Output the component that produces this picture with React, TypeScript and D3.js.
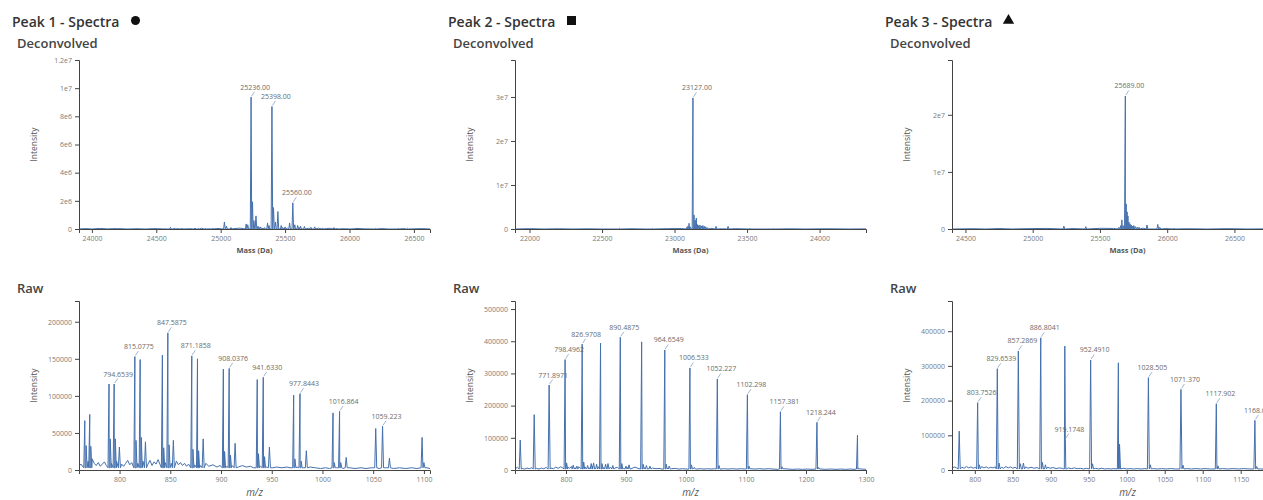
import { useEffect, useRef } from "react";
import * as d3 from "d3";

type Peak = [number, number];
type Labelled = [number, number, string];

// ---------- Peak 1 ----------
const p1Title = "Peak 1 - Spectra";
const p1MassDomain: [number, number] = [23900, 26625];
const p1MassTicks = [24000, 24500, 25000, 25500, 26000, 26500];
const p1DeconvMax = 1.2e7;
const p1DeconvTicks = [0, 2e6, 4e6, 6e6, 8e6, 1e7, 1.2e7];
const p1DeconvLabelled: Labelled[] = [
  [25236, 9.36e6, "25236.00"],
  [25398, 8.7e6, "25398.00"],
  [25560, 1.86e6, "25560.00"],
];
const p1DeconvPeaks: Peak[] = [
  [24610, 1.2e5], [24640, 0.8e5], [24700, 0.6e5], [24800, 0.7e5], [24830, 0.5e5], [24880, 0.4e5],
  [24940, 0.6e5], [25029, 5.0e5], [25045, 2.0e5], [25080, 1.0e5], [25198, 3.6e5], [25210, 3.0e5],
  [25247, 1.93e6], [25258, 6.0e5], [25274, 9.3e5], [25290, 2.0e5], [25310, 1.5e5], [25340, 1.0e5],
  [25364, 4.3e5], [25375, 2.5e5], [25410, 1.52e6], [25425, 5.0e5], [25444, 1.24e6], [25470, 2.5e5],
  [25500, 1.5e5], [25535, 4.3e5], [25575, 3.0e5], [25598, 2.5e5], [25620, 2.0e5], [25650, 1.8e5],
  [25700, 1.2e5], [25730, 1.5e5], [25790, 0.8e5], [25880, 1.0e5], [25900, 0.7e5], [26020, 0.5e5],
  [26200, 0.4e5], [26380, 0.6e5], [26450, 0.5e5],
];
const p1DeconvNoise: Peak[] = [
  [23900, 0], [23950, 3e4], [24000, 0], [24060, 4e4], [24120, 1e4], [24200, 3e4], [24280, 0], [24350, 2e4],
  [24420, 0], [24480, 3e4], [24550, 1e4], [24660, 2e4], [24760, 2e4], [24850, 5e4], [24900, 1e4],
  [24970, 4e4], [25100, 3e4], [25150, 6e4], [25180, 2e4], [25300, 1e5], [25330, 5e4], [25480, 1e5],
  [25520, 6e4], [25610, 1e5], [25680, 5e4], [25760, 6e4], [25820, 3e4], [25850, 5e4], [25950, 2e4],
  [26050, 4e4], [26120, 1e4], [26250, 3e4], [26300, 0], [26420, 3e4], [26500, 1e4], [26560, 3e4], [26625, 0],
];
const p1MzDomain: [number, number] = [760, 1106];
const p1MzTicks = [800, 850, 900, 950, 1000, 1050, 1100];
const p1RawMax = 228000;
const p1RawTicks = [0, 50000, 100000, 150000, 200000];
const p1RawLabelled: Labelled[] = [
  [794.6539, 116000, "794.6539"],
  [815.0775, 153000, "815.0775"],
  [847.5875, 185000, "847.5875"],
  [871.1858, 154000, "871.1858"],
  [908.0376, 137000, "908.0376"],
  [941.633, 125000, "941.6330"],
  [977.8443, 103000, "977.8443"],
  [1016.864, 79000, "1016.864"],
  [1059.223, 59000, "1059.223"],
];
const p1RawPeaks: Peak[] = [
  [765.7, 66600], [767.0, 33000], [770.6, 75000], [771.6, 32000], [789.6, 116000], [790.8, 42000],
  [795.8, 42000], [799.8, 31000], [816.2, 40000], [820.3, 149000], [821.4, 44000], [825.5, 38000],
  [842.2, 155000], [843.5, 30000], [848.8, 34000], [853.0, 40000], [872.3, 28000], [876.8, 150000],
  [877.9, 26000], [882.4, 42000], [902.3, 136000], [903.5, 25000], [909.3, 20000], [913.9, 36000],
  [935.7, 122000], [936.9, 22000], [942.9, 18000], [947.7, 31000], [971.6, 101000], [972.8, 15000],
  [979.0, 12000], [984.1, 26000], [1010.4, 77000], [1011.6, 10000], [1018.0, 10000], [1023.4, 17000],
  [1052.5, 56000], [1066.0, 16000], [1098.2, 44000], [1100.0, 10000],
];
const p1RawNoise: Peak[] = [
  [760, 5e3], [762, 8e3], [764, 4e3], [769, 12e3], [773, 15e3], [775, 9e3], [777, 6e3], [779, 10e3],
  [781, 5e3], [783, 8e3], [785, 11e3], [787, 6e3], [792, 9e3], [797, 12e3], [802, 8e3], [804, 5e3],
  [806, 9e3], [808, 13e3], [810, 7e3], [812, 10e3], [818, 9e3], [823, 12e3], [828, 8e3], [830, 13e3],
  [832, 6e3], [834, 11e3], [836, 8e3], [838, 14e3], [840, 7e3], [845, 10e3], [851, 9e3], [856, 12e3],
  [858, 7e3], [860, 10e3], [862, 6e3], [864, 9e3], [866, 5e3], [868, 8e3], [874, 7e3], [880, 6e3],
  [885, 9e3], [888, 5e3], [892, 7e3], [896, 4e3], [899, 6e3], [906, 5e3], [911, 6e3], [917, 4e3],
  [921, 6e3], [925, 4e3], [929, 5e3], [932, 3e3], [939, 5e3], [945, 4e3], [951, 3e3], [955, 4e3],
  [960, 3e3], [965, 4e3], [968, 3e3], [975, 4e3], [981, 3e3], [988, 4e3], [993, 3e3], [998, 2e3],
  [1003, 3e3], [1007, 2e3], [1014, 3e3], [1020, 2e3], [1027, 3e3], [1032, 2e3], [1038, 3e3], [1043, 2e3],
  [1048, 3e3], [1056, 2e3], [1062, 3e3], [1070, 2e3], [1076, 3e3], [1082, 2e3], [1088, 3e3], [1093, 2e3],
  [1103, 3e3], [1106, 2e3],
];

// ---------- Peak 2 ----------
const p2Title = "Peak 2 - Spectra";
const p2MassDomain: [number, number] = [21900, 24320];
const p2MassTicks = [22000, 22500, 23000, 23500, 24000];
const p2DeconvMax = 3.84e7;
const p2DeconvTicks = [0, 1e7, 2e7, 3e7];
const p2DeconvLabelled: Labelled[] = [[23127, 2.98e7, "23127.00"]];
const p2DeconvPeaks: Peak[] = [
  [22620, 1.5e5], [22850, 1.2e5], [23085, 4e5], [23093, 7e5], [23100, 1.3e6], [23108, 5e5],
  [23134, 3.2e6], [23142, 2.0e6], [23150, 2.5e6], [23158, 1.0e6], [23166, 8e5], [23175, 9e5],
  [23185, 7e5], [23195, 8e5], [23205, 6e5], [23215, 5e5], [23228, 3e5], [23286, 6e5], [23369, 6e5],
  [23520, 1.5e5], [23680, 1e5],
];
const p2DeconvNoise: Peak[] = [
  [21900, 0], [22000, 8e4], [22100, 0], [22200, 6e4], [22300, 0], [22400, 5e4], [22500, 0],
  [22700, 6e4], [22800, 0], [22950, 8e4], [23050, 1e5], [23250, 1.5e5], [23330, 5e4], [23420, 8e4],
  [23600, 0], [23800, 5e4], [23900, 0], [24050, 6e4], [24200, 0], [24320, 3e4],
];
const p2MzDomain: [number, number] = [715, 1300];
const p2MzTicks = [800, 900, 1000, 1100, 1200, 1300];
const p2RawMax = 525000;
const p2RawTicks = [0, 100000, 200000, 300000, 400000, 500000];
const p2RawLabelled: Labelled[] = [
  [771.8971, 264000, "771.8971"],
  [798.4962, 343000, "798.4962"],
  [826.9708, 391000, "826.9708"],
  [890.4875, 412000, "890.4875"],
  [964.6549, 373000, "964.6549"],
  [1006.533, 317000, "1006.533"],
  [1052.227, 283000, "1052.227"],
  [1102.298, 234000, "1102.298"],
  [1157.381, 181000, "1157.381"],
  [1218.244, 148000, "1218.244"],
];
const p2RawPeaks: Peak[] = [
  [723.7, 93000], [747.0, 172000], [857.56, 394000], [926.09, 398000], [1285.8, 108000],
  [801, 22000], [812, 15000], [818, 12000], [829.5, 25000], [836, 14000], [842, 20000], [846, 22000],
  [851, 18000], [860, 20000], [866, 18000], [870, 20000], [878, 14000], [893, 20000], [900, 12000],
  [905, 16000], [928.5, 18000], [934, 14000], [940, 12000], [967, 18000], [972, 12000], [1009, 16000],
  [1014, 8000], [1055, 14000], [1105, 12000], [1160, 10000], [1221, 8000], [1288, 6000],
];
const p2RawNoise: Peak[] = [
  [715, 4e3], [719, 8e3], [727, 5e3], [731, 3e3], [735, 6e3], [739, 4e3], [743, 7e3], [751, 5e3],
  [755, 3e3], [759, 6e3], [763, 4e3], [767, 8e3], [775, 6e3], [779, 4e3], [783, 9e3], [787, 5e3],
  [791, 10e3], [795, 6e3], [803, 9e3], [806, 5e3], [809, 11e3], [815, 7e3], [821, 10e3], [824, 6e3],
  [832, 9e3], [839, 7e3], [844, 12e3], [848, 6e3], [854, 10e3], [863, 8e3], [868, 6e3], [874, 9e3],
  [881, 6e3], [886, 8e3], [896, 5e3], [903, 8e3], [910, 5e3], [915, 9e3], [920, 5e3], [931, 7e3],
  [937, 4e3], [944, 6e3], [950, 4e3], [955, 5e3], [960, 3e3], [970, 6e3], [976, 4e3], [982, 5e3],
  [988, 3e3], [994, 4e3], [1000, 3e3], [1012, 5e3], [1018, 3e3], [1024, 4e3], [1030, 3e3], [1036, 4e3],
  [1042, 3e3], [1048, 4e3], [1058, 3e3], [1064, 4e3], [1070, 3e3], [1078, 4e3], [1085, 3e3], [1092, 4e3],
  [1098, 3e3], [1108, 4e3], [1115, 3e3], [1122, 4e3], [1130, 3e3], [1137, 4e3], [1145, 3e3], [1152, 2e3],
  [1163, 4e3], [1170, 3e3], [1178, 2e3], [1186, 3e3], [1194, 2e3], [1202, 3e3], [1210, 2e3], [1225, 3e3],
  [1233, 2e3], [1241, 3e3], [1250, 2e3], [1258, 3e3], [1266, 2e3], [1274, 3e3], [1280, 2e3], [1292, 3e3],
  [1300, 2e3],
];

// ---------- Peak 3 ----------
const p3Title = "Peak 3 - Spectra";
const p3MassDomain: [number, number] = [24400, 27010];
const p3MassTicks = [24500, 25000, 25500, 26000, 26500, 27000];
const p3DeconvMax = 2.96e7;
const p3DeconvTicks = [0, 1e7, 2e7];
const p3DeconvLabelled: Labelled[] = [[25689, 2.33e7, "25689.00"]];
const p3DeconvPeaks: Peak[] = [
  [25232, 5e5], [25395, 4e5], [25640, 3e5], [25655, 6e5], [25663, 1.6e6], [25672, 6e5],
  [25695, 4.4e6], [25702, 3.0e6], [25708, 2.3e6], [25716, 1.2e6], [25724, 9e5], [25733, 7e5],
  [25742, 5e5], [25752, 6e5], [25765, 4e5], [25778, 3e5], [25790, 3e5], [25850, 7e5], [25930, 8e5],
  [25945, 3e5], [26050, 1.5e5],
];
const p3DeconvNoise: Peak[] = [
  [24400, 0], [24550, 5e4], [24650, 0], [24750, 8e4], [24850, 0], [24950, 6e4], [25100, 1e5],
  [25300, 8e4], [25500, 1.2e5], [25600, 1e5], [25820, 1.5e5], [25990, 8e4], [26150, 5e4], [26300, 0],
  [26450, 6e4], [26600, 0], [26800, 4e4], [27010, 0],
];
const p3MzDomain: [number, number] = [770, 1232];
const p3MzTicks = [800, 850, 900, 950, 1000, 1050, 1100, 1150, 1200];
const p3RawMax = 487000;
const p3RawTicks = [0, 100000, 200000, 300000, 400000];
const p3RawLabelled: Labelled[] = [
  [803.7526, 194000, "803.7526"],
  [829.6539, 292000, "829.6539"],
  [857.2869, 343000, "857.2869"],
  [886.8041, 381000, "886.8041"],
  [919.1748, 89000, "919.1748"],
  [952.491, 317000, "952.4910"],
  [1028.505, 266000, "1028.505"],
  [1071.37, 232000, "1071.370"],
  [1117.902, 191000, "1117.902"],
  [1168.686, 143000, "1168.686"],
];
const p3RawPeaks: Peak[] = [
  [779.5, 112000], [918.5, 357000], [989.0, 309000], [990.5, 75000], [1224.3, 110000],
  [806, 15000], [832, 20000], [860, 18000], [864, 20000], [889, 22000], [893, 15000], [955, 18000],
  [1031, 15000], [1074, 14000], [1120, 12000], [1171, 10000],
];
const p3RawNoise: Peak[] = [
  [770, 5e3], [773, 9e3], [776, 6e3], [783, 8e3], [786, 5e3], [789, 10e3], [792, 6e3], [795, 9e3],
  [798, 5e3], [801, 8e3], [809, 10e3], [812, 6e3], [815, 9e3], [818, 5e3], [821, 8e3], [824, 6e3],
  [827, 9e3], [835, 8e3], [838, 5e3], [841, 10e3], [844, 6e3], [847, 9e3], [850, 5e3], [853, 8e3],
  [867, 9e3], [870, 5e3], [874, 8e3], [878, 5e3], [882, 7e3], [896, 8e3], [899, 5e3], [903, 7e3],
  [907, 4e3], [911, 6e3], [915, 5e3], [923, 6e3], [927, 4e3], [931, 6e3], [935, 4e3], [939, 5e3],
  [943, 3e3], [947, 5e3], [959, 5e3], [963, 3e3], [967, 5e3], [971, 3e3], [975, 4e3], [979, 3e3],
  [983, 4e3], [996, 5e3], [1000, 3e3], [1004, 4e3], [1009, 3e3], [1014, 4e3], [1019, 3e3], [1024, 4e3],
  [1035, 4e3], [1040, 3e3], [1046, 4e3], [1052, 3e3], [1058, 4e3], [1064, 3e3], [1079, 4e3], [1085, 3e3],
  [1091, 4e3], [1097, 3e3], [1103, 4e3], [1110, 3e3], [1126, 4e3], [1133, 3e3], [1140, 4e3], [1147, 3e3],
  [1154, 4e3], [1161, 3e3], [1176, 3e3], [1185, 2e3], [1194, 3e3], [1203, 2e3], [1212, 3e3], [1220, 2e3],
  [1232, 3e3],
];

// layout
const PLOT_LEFT = [79, 515, 952];
const PLOT_W = 351;
const DECONV_TOP = 60;
const DECONV_BOTTOM = 229;
const RAW_TOP = 301;
const RAW_BOTTOM = 470;
const LINE = "#4470ad";
const FONT = "'Open Sans', 'Noto Sans', sans-serif";

interface Spectrum {
  peaks: Peak[];
  labelled: Labelled[];
  noise: Peak[];
  xDomain: [number, number];
  xTicks: number[];
  yMax: number;
  yTicks: number[];
  raw: boolean;
}

const expFormat = (v: number) => (v === 0 ? "0" : v.toExponential().replace("+", ""));

const panels = [
  {
    title: p1Title, symbol: d3.symbolCircle, symSize: 64,
    deconv: { peaks: p1DeconvPeaks, labelled: p1DeconvLabelled, noise: p1DeconvNoise, xDomain: p1MassDomain, xTicks: p1MassTicks, yMax: p1DeconvMax, yTicks: p1DeconvTicks, raw: false },
    raw: { peaks: p1RawPeaks, labelled: p1RawLabelled, noise: p1RawNoise, xDomain: p1MzDomain, xTicks: p1MzTicks, yMax: p1RawMax, yTicks: p1RawTicks, raw: true },
  },
  {
    title: p2Title, symbol: d3.symbolSquare, symSize: 81,
    deconv: { peaks: p2DeconvPeaks, labelled: p2DeconvLabelled, noise: p2DeconvNoise, xDomain: p2MassDomain, xTicks: p2MassTicks, yMax: p2DeconvMax, yTicks: p2DeconvTicks, raw: false },
    raw: { peaks: p2RawPeaks, labelled: p2RawLabelled, noise: p2RawNoise, xDomain: p2MzDomain, xTicks: p2MzTicks, yMax: p2RawMax, yTicks: p2RawTicks, raw: true },
  },
  {
    title: p3Title, symbol: d3.symbolTriangle, symSize: 56,
    deconv: { peaks: p3DeconvPeaks, labelled: p3DeconvLabelled, noise: p3DeconvNoise, xDomain: p3MassDomain, xTicks: p3MassTicks, yMax: p3DeconvMax, yTicks: p3DeconvTicks, raw: false },
    raw: { peaks: p3RawPeaks, labelled: p3RawLabelled, noise: p3RawNoise, xDomain: p3MzDomain, xTicks: p3MzTicks, yMax: p3RawMax, yTicks: p3RawTicks, raw: true },
  },
];

function drawSpectrum(
  svg: d3.Selection<SVGSVGElement, unknown, null, undefined>,
  s: Spectrum,
  left: number,
  top: number,
  bottom: number,
  id: string
) {
  const x = d3.scaleLinear().domain(s.xDomain).range([left, left + PLOT_W]);
  const y = d3.scaleLinear().domain([0, s.yMax]).range([bottom, top]);
  const g = svg.append("g");

  svg.append("defs").append("clipPath").attr("id", id)
    .append("rect").attr("x", left).attr("y", top - 4).attr("width", PLOT_W).attr("height", bottom - top + 4);

  // profile: each peak is a narrow spike, noise points are joined directly
  const base = s.raw ? 3000 : 0;
  const hw = s.raw ? 1.0 : 0.8;
  const pts: [number, number][] = [];
  const allPeaks: Peak[] = [...s.peaks, ...s.labelled.map((d) => [d[0], d[1]] as Peak)];
  allPeaks.forEach(([m, v]) => {
    const px = x(m);
    pts.push([px - hw, y(base)], [px, y(v)], [px + hw, y(base)]);
  });
  s.noise.forEach(([m, v]) => pts.push([x(m), y(v)]));
  pts.sort((a, b) => a[0] - b[0]);

  g.append("path")
    .attr("d", d3.line()(pts))
    .attr("fill", "none")
    .attr("stroke", LINE)
    .attr("stroke-width", 1)
    .attr("stroke-linejoin", "bevel")
    .attr("clip-path", `url(#${id})`);

  // peak labels with leader lines
  s.labelled.forEach(([m, v, txt]) => {
    const px = x(m);
    const py = y(v);
    g.append("line")
      .attr("x1", px + 0.5).attr("y1", py - 1)
      .attr("x2", px + 3.5).attr("y2", py - 5.5)
      .attr("stroke", "#8aa3c4").attr("stroke-width", 0.8);
    g.append("text")
      .attr("x", px + 4).attr("y", py - 7.5)
      .attr("text-anchor", "middle")
      .attr("font-family", FONT).attr("font-size", 7)
      .attr("fill", "#6b6b6b")
      .text(txt);
  });

  // axes
  const xAxis = d3.axisBottom(x).tickValues(s.xTicks).tickSize(4).tickPadding(3).tickFormat(d3.format("d"));
  const yAxis = d3.axisLeft(y).tickValues(s.yTicks).tickSize(4).tickPadding(3)
    .tickFormat((v) => (s.raw ? d3.format("d")(v as number) : expFormat(v as number)));

  const gx = g.append("g").attr("transform", `translate(0,${bottom})`).call(xAxis);
  const gy = g.append("g").attr("transform", `translate(${left},0)`).call(yAxis);
  [gx, gy].forEach((ax) => {
    ax.attr("font-family", FONT).attr("font-size", 7);
    ax.select(".domain").attr("stroke", "#444");
    ax.selectAll(".tick line").attr("stroke", "#444");
    ax.selectAll(".tick text").attr("fill", "#7a7a7a");
  });

  // axis titles
  g.append("text")
    .attr("transform", `translate(${left - 42},${(top + bottom) / 2}) rotate(-90)`)
    .attr("text-anchor", "middle")
    .attr("font-family", FONT).attr("font-size", 8.5)
    .attr("fill", "#555")
    .text("Intensity");

  if (s.raw) {
    g.append("text")
      .attr("x", left + PLOT_W / 2).attr("y", bottom + 25.5)
      .attr("text-anchor", "middle")
      .attr("font-family", FONT).attr("font-size", 10)
      .attr("font-style", "italic")
      .attr("fill", "#555")
      .text("m/z");
  } else {
    g.append("text")
      .attr("x", left + PLOT_W / 2).attr("y", bottom + 24)
      .attr("text-anchor", "middle")
      .attr("font-family", FONT).attr("font-size", 7.5)
      .attr("font-weight", 700)
      .attr("fill", "#555")
      .text("Mass (Da)");
  }
}

export default function App() {
  const svgRef = useRef<SVGSVGElement | null>(null);

  useEffect(() => {
    const svg = d3.select(svgRef.current as SVGSVGElement);
    svg.selectAll("*").remove();

    panels.forEach((p, i) => {
      const left = PLOT_LEFT[i];

      svg.append("text")
        .attr("x", left - 67).attr("y", 26.5)
        .attr("font-family", FONT).attr("font-size", 14).attr("font-weight", 600)
        .attr("fill", "#333")
        .text(p.title);

      svg.append("path")
        .attr("d", d3.symbol(p.symbol, p.symSize)())
        .attr("transform", `translate(${left + 56.5},${20.5})`)
        .attr("fill", "#111");

      svg.append("text")
        .attr("x", left - 62).attr("y", 48)
        .attr("font-family", FONT).attr("font-size", 13).attr("font-weight", 600)
        .attr("fill", "#444")
        .text("Deconvolved");

      drawSpectrum(svg, p.deconv, left, DECONV_TOP, DECONV_BOTTOM, `clip-d${i}`);

      svg.append("text")
        .attr("x", left - 62).attr("y", 293)
        .attr("font-family", FONT).attr("font-size", 13).attr("font-weight", 600)
        .attr("fill", "#444")
        .text("Raw");

      drawSpectrum(svg, p.raw, left, RAW_TOP, RAW_BOTTOM, `clip-r${i}`);
    });
  }, []);

  return (
    <svg
      ref={svgRef}
      width={1263}
      height={500}
      style={{ position: "absolute", left: 0, top: 0, display: "block", background: "#fff" }}
    />
  );
}
